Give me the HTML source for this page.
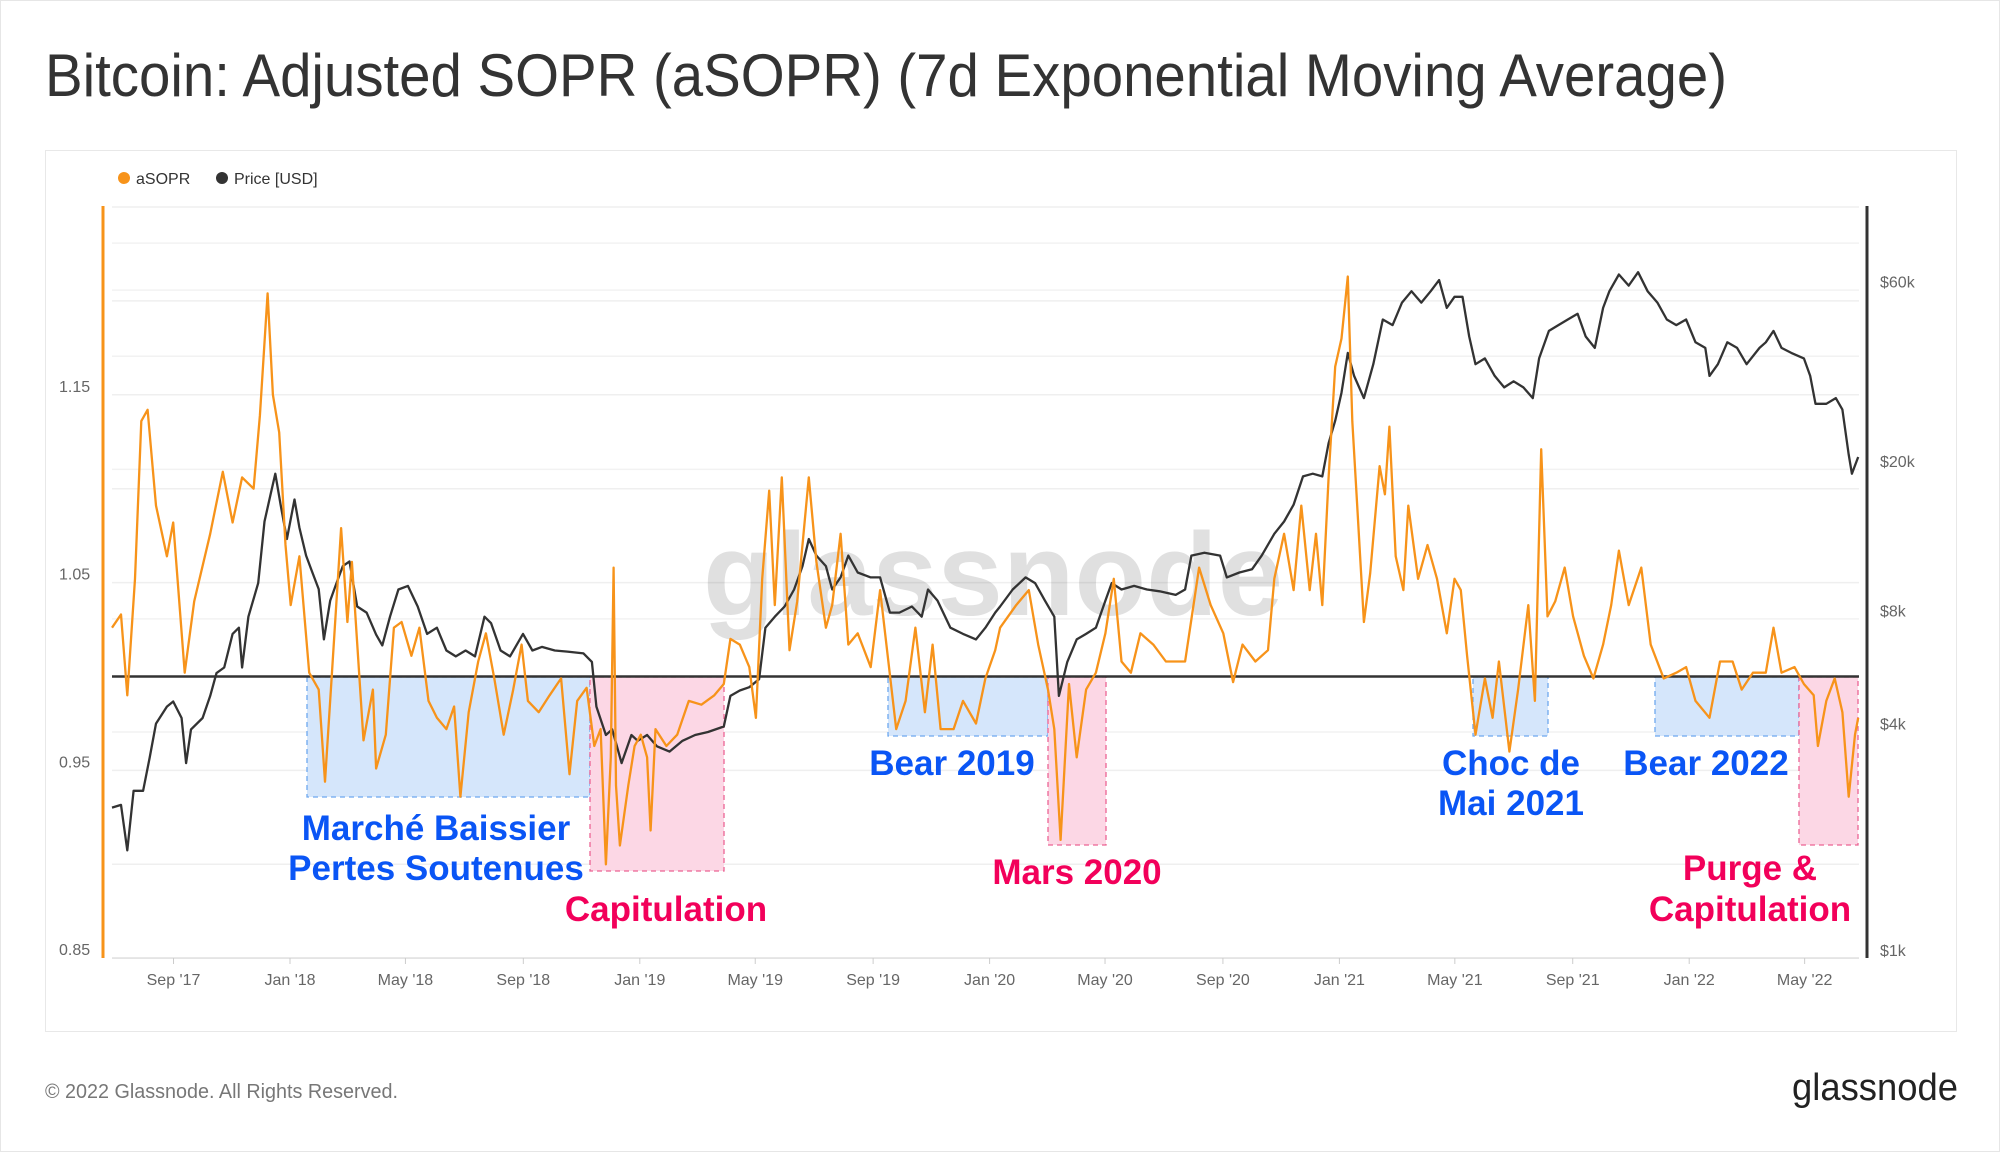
<!DOCTYPE html>
<html><head><meta charset="utf-8">
<style>
html,body{margin:0;padding:0;background:#fff;}
svg{display:block;font-family:"Liberation Sans",sans-serif;}
</style></head>
<body>
<svg id="chart" width="2000" height="1152" viewBox="0 0 2000 1152" xmlns="http://www.w3.org/2000/svg">
<rect x="0.5" y="0.5" width="1999" height="1151" fill="#fff" stroke="#e6e6e6"/>
<text x="45" y="96" font-size="60" fill="#333" textLength="1682" lengthAdjust="spacingAndGlyphs">Bitcoin: Adjusted SOPR (aSOPR) (7d Exponential Moving Average)</text>
<rect x="45.5" y="150.5" width="1911" height="881" fill="#fff" stroke="#e8e8e8"/>
<g>
<g><circle cx="124" cy="178" r="6" fill="#f7931a"/><text x="136" y="184" font-size="16" fill="#333">aSOPR</text></g>
<g><circle cx="222" cy="178" r="6" fill="#333"/><text x="234" y="184" font-size="16" fill="#333">Price [USD]</text></g>
</g>
<g id="grid"></g>
<text x="993" y="615" font-size="118" fill="#000" fill-opacity="0.12" text-anchor="middle" font-weight="bold" textLength="580" lengthAdjust="spacingAndGlyphs">glassnode</text>
<g id="boxes"></g>
<g id="series"></g>
<g id="axes"></g>
<g id="labels" font-weight="bold" font-size="35" text-anchor="middle"></g>
<text x="45" y="1098" font-size="20" fill="#777" textLength="353" lengthAdjust="spacingAndGlyphs">© 2022 Glassnode. All Rights Reserved.</text>
<text x="1792" y="1100" font-size="38" fill="#222" textLength="166" lengthAdjust="spacingAndGlyphs">glassnode</text>
</svg>
<script>
const asoprDates=[2017.491,2017.517,2017.535,2017.557,2017.575,2017.593,2017.617,2017.648,2017.666,2017.699,2017.726,2017.772,2017.808,2017.836,2017.863,2017.896,2017.914,2017.936,2017.951,2017.969,2017.987,2018.002,2018.027,2018.055,2018.082,2018.100,2018.119,2018.146,2018.164,2018.177,2018.210,2018.237,2018.246,2018.274,2018.297,2018.319,2018.347,2018.370,2018.396,2018.420,2018.447,2018.469,2018.487,2018.511,2018.538,2018.560,2018.584,2018.611,2018.638,2018.662,2018.680,2018.711,2018.742,2018.775,2018.799,2018.821,2018.848,2018.870,2018.888,2018.903,2018.917,2018.925,2018.932,2018.943,2018.967,2018.985,2019.003,2019.021,2019.031,2019.045,2019.076,2019.107,2019.140,2019.176,2019.213,2019.240,2019.259,2019.286,2019.313,2019.332,2019.350,2019.370,2019.386,2019.406,2019.428,2019.450,2019.483,2019.505,2019.532,2019.550,2019.574,2019.596,2019.623,2019.660,2019.687,2019.733,2019.760,2019.788,2019.815,2019.837,2019.860,2019.897,2019.924,2019.961,2019.988,2020.016,2020.030,2020.076,2020.112,2020.139,2020.167,2020.185,2020.203,2020.227,2020.249,2020.276,2020.304,2020.331,2020.355,2020.377,2020.404,2020.431,2020.468,2020.504,2020.559,2020.599,2020.632,2020.668,2020.696,2020.723,2020.760,2020.796,2020.814,2020.842,2020.869,2020.891,2020.915,2020.933,2020.951,2020.969,2020.988,2021.006,2021.024,2021.037,2021.051,2021.070,2021.088,2021.115,2021.130,2021.143,2021.161,2021.183,2021.197,2021.225,2021.252,2021.279,2021.307,2021.329,2021.347,2021.365,2021.389,2021.416,2021.438,2021.456,2021.486,2021.511,2021.540,2021.559,2021.577,2021.595,2021.617,2021.644,2021.668,2021.699,2021.726,2021.754,2021.777,2021.799,2021.827,2021.863,2021.890,2021.927,2021.963,2021.991,2022.018,2022.058,2022.088,2022.124,2022.150,2022.182,2022.219,2022.241,2022.264,2022.301,2022.328,2022.356,2022.368,2022.392,2022.416,2022.438,2022.456,2022.474,2022.483];
const asoprValues=[1.026,1.033,0.990,1.052,1.136,1.142,1.091,1.064,1.082,1.002,1.040,1.076,1.109,1.082,1.106,1.100,1.139,1.204,1.150,1.130,1.070,1.038,1.064,1.002,0.993,0.944,0.999,1.079,1.029,1.061,0.966,0.993,0.951,0.969,1.026,1.029,1.011,1.026,0.987,0.978,0.972,0.984,0.936,0.981,1.008,1.023,0.999,0.969,0.993,1.017,0.987,0.981,0.990,0.999,0.948,0.987,0.994,0.963,0.972,0.900,0.957,1.058,0.942,0.910,0.942,0.963,0.969,0.957,0.918,0.972,0.963,0.969,0.987,0.985,0.990,0.996,1.020,1.017,1.005,0.978,1.052,1.099,1.038,1.106,1.014,1.040,1.106,1.061,1.026,1.038,1.076,1.017,1.023,1.005,1.046,0.972,0.987,1.026,0.981,1.017,0.972,0.972,0.987,0.975,0.999,1.014,1.026,1.038,1.046,1.017,0.993,0.972,0.913,0.996,0.957,0.993,1.002,1.023,1.052,1.008,1.002,1.023,1.017,1.008,1.008,1.058,1.038,1.023,0.997,1.017,1.008,1.014,1.052,1.076,1.046,1.091,1.046,1.076,1.038,1.106,1.165,1.180,1.213,1.136,1.091,1.029,1.055,1.112,1.097,1.133,1.064,1.046,1.091,1.052,1.070,1.052,1.023,1.052,1.046,1.011,0.969,0.999,0.978,1.008,0.960,0.993,1.038,0.987,1.121,1.032,1.040,1.058,1.032,1.011,0.999,1.017,1.038,1.067,1.038,1.058,1.017,0.999,1.002,1.005,0.987,0.978,1.008,1.008,0.993,1.002,1.002,1.026,1.002,1.005,0.996,0.990,0.963,0.987,0.999,0.981,0.936,0.969,0.978];
const priceDates=[2017.491,2017.517,2017.535,2017.553,2017.580,2017.599,2017.617,2017.648,2017.666,2017.690,2017.703,2017.717,2017.750,2017.772,2017.790,2017.812,2017.836,2017.854,2017.863,2017.881,2017.909,2017.927,2017.945,2017.958,2017.973,2017.991,2018.013,2018.027,2018.046,2018.064,2018.082,2018.097,2018.115,2018.133,2018.151,2018.170,2018.192,2018.219,2018.246,2018.264,2018.286,2018.310,2018.337,2018.365,2018.392,2018.420,2018.447,2018.474,2018.502,2018.529,2018.556,2018.575,2018.602,2018.629,2018.666,2018.693,2018.720,2018.757,2018.793,2018.839,2018.863,2018.876,2018.903,2018.921,2018.948,2018.976,2018.994,2019.021,2019.049,2019.085,2019.122,2019.158,2019.195,2019.240,2019.259,2019.286,2019.313,2019.341,2019.359,2019.386,2019.414,2019.441,2019.465,2019.483,2019.505,2019.532,2019.550,2019.574,2019.596,2019.623,2019.660,2019.687,2019.715,2019.742,2019.778,2019.806,2019.824,2019.851,2019.888,2019.924,2019.961,2019.988,2020.016,2020.030,2020.066,2020.103,2020.130,2020.158,2020.185,2020.198,2020.222,2020.249,2020.276,2020.304,2020.331,2020.349,2020.377,2020.413,2020.450,2020.486,2020.532,2020.559,2020.577,2020.614,2020.659,2020.678,2020.714,2020.750,2020.778,2020.814,2020.842,2020.869,2020.896,2020.924,2020.951,2020.969,2020.988,2021.006,2021.024,2021.042,2021.070,2021.097,2021.124,2021.152,2021.179,2021.206,2021.234,2021.261,2021.285,2021.307,2021.329,2021.352,2021.371,2021.389,2021.416,2021.444,2021.471,2021.498,2021.526,2021.553,2021.571,2021.599,2021.626,2021.653,2021.681,2021.704,2021.730,2021.754,2021.772,2021.799,2021.827,2021.854,2021.881,2021.909,2021.936,2021.963,2021.991,2022.018,2022.046,2022.058,2022.082,2022.109,2022.137,2022.164,2022.201,2022.219,2022.241,2022.264,2022.292,2022.328,2022.346,2022.361,2022.392,2022.419,2022.438,2022.456,2022.465,2022.483];
const priceValues=[2390,2430,1840,2650,2650,3250,4000,4440,4580,4140,3140,3860,4140,4740,5450,5640,6930,7200,5640,7700,9460,13800,16400,18500,15300,12400,15800,13300,11200,10100,9120,6700,8500,9460,10500,10800,8200,7900,6900,6460,7700,9100,9300,8200,6930,7200,6260,6040,6260,6040,7700,7400,6260,6040,6930,6260,6400,6260,6220,6150,5840,4440,3730,3860,3140,3730,3600,3730,3480,3370,3600,3730,3800,3930,4740,4900,5000,5250,7200,7700,8200,9100,10500,12400,11200,10500,9100,9800,11200,10100,9800,9800,7900,7900,8200,7700,9100,8500,7200,6930,6700,7200,7900,8200,9100,9800,9460,8500,7700,4740,5840,6700,6930,7200,8500,9460,9100,9300,9100,9000,8800,9100,11200,11400,11200,9800,10100,10300,11200,12800,13800,15300,18200,18500,18200,22300,25600,30400,38800,33700,29400,36200,47600,46000,52800,56600,52800,56600,60600,51100,54700,54700,42900,36200,37500,33700,31400,32600,31400,29400,37500,44400,46000,47600,49300,42900,40000,51100,56600,62700,58600,63600,56600,52800,47600,46000,47600,41400,40000,33700,36200,41400,40000,36200,40000,41400,44400,40000,38800,37500,33700,28400,28400,29400,27400,20800,18500,20500];
const xTickLabels=["Sep '17","Jan '18","May '18","Sep '18","Jan '19","May '19","Sep '19","Jan '20","May '20","Sep '20","Jan '21","May '21","Sep '21","Jan '22","May '22"];
const xTickDates=[2017.667,2018.0,2018.33,2018.667,2019.0,2019.33,2019.667,2020.0,2020.33,2020.667,2021.0,2021.33,2021.667,2022.0,2022.33];
const leftTicks=[0.85,0.95,1.05,1.15];
const leftTickLabels=["0.85","0.95","1.05","1.15"];
const leftGrid=[0.85,0.90,0.95,1.05,1.10,1.15,1.20,1.25];
const rightTicks=[1000,4000,8000,20000,60000];
const rightTickLabels=["$1k","$4k","$8k","$20k","$60k"];
const rightGrid=[3800,7600,19000,38000,57000,76000];

const NS="http://www.w3.org/2000/svg";
const PL=112,PR=1859,PT=206,PB=958;
function xScale(t){return 290+(t-2018)*349.8;}
function yLeft(v){return 958.2-(v-0.85)*1878;}
function yRight(p){return 949.8-Math.log2(p/1000)*113.1;}
function mk(tag,attrs,parent){const e=document.createElementNS(NS,tag);for(const k in attrs)e.setAttribute(k,attrs[k]);parent.appendChild(e);return e;}

const grid=document.getElementById('grid');
leftGrid.forEach(v=>{const l=mk('line',{x1:PL,x2:PR,y1:yLeft(v),y2:yLeft(v),stroke:'#efefef','stroke-width':1.5},grid);

});
rightGrid.forEach(p=>{const l=mk('line',{x1:PL,x2:PR,y1:yRight(p),y2:yRight(p),stroke:'#f2f2f2','stroke-width':1.5},grid);

});

const boxes=document.getElementById('boxes');
const boxDefs=[[307,677,283,120,'b','bear-market-box'],[590,677,134,194,'p','capitulation-box'],[888,677,160,59,'b','bear-2019-box'],[1048,677,58,168,'p','march-2020-box'],[1473,677,75,59,'b','may-2021-box'],[1655,677,144,59,'b','bear-2022-box'],[1799,677,59,168,'p','purge-box']];
boxDefs.forEach(b=>{const r=mk('rect',{x:b[0],y:b[1],width:b[2],height:b[3],fill:b[4]=='b'?'#d5e6fb':'#fcd7e5',stroke:b[4]=='b'?'#6ea8ef':'#ec6394','stroke-width':1.3,'stroke-dasharray':'5,4'},boxes);

});

const series=document.getElementById('series');
const bl=mk('line',{x1:PL,x2:PR,y1:yLeft(1),y2:yLeft(1),stroke:'#333','stroke-width':2.5},series);


let pd=priceDates.map((t,i)=>(i?'L':'M')+xScale(t).toFixed(1)+','+yRight(priceValues[i]).toFixed(1)).join('');
const pl=mk('path',{d:pd,fill:'none',stroke:'#333','stroke-width':2.3,'stroke-linejoin':'round'},series);


let ad=asoprDates.map((t,i)=>(i?'L':'M')+xScale(t).toFixed(1)+','+yLeft(asoprValues[i]).toFixed(1)).join('');
const al=mk('path',{d:ad,fill:'none',stroke:'#f7931a','stroke-width':2.3,'stroke-linejoin':'round'},series);



const axes=document.getElementById('axes');
const la=mk('line',{x1:103,x2:103,y1:PT,y2:PB,stroke:'#f7931a','stroke-width':3},axes);


const ra=mk('line',{x1:1867,x2:1867,y1:PT,y2:PB,stroke:'#333','stroke-width':3},axes);


const xa=mk('line',{x1:PL,x2:PR,y1:PB,y2:PB,stroke:'#e0e0e0','stroke-width':1.5},axes);


leftTicks.forEach((v,i)=>{const t=mk('text',{x:59,y:yLeft(v)-3,'font-size':16,fill:'#666'},axes);t.textContent=leftTickLabels[i];

});
rightTicks.forEach((p,i)=>{const t=mk('text',{x:1880,y:yRight(p)+6,'font-size':16,fill:'#666'},axes);t.textContent=rightTickLabels[i];

});
xTickDates.forEach((d,i)=>{const x=xScale(d);
const tk=mk('line',{x1:x,x2:x,y1:PB,y2:PB+6,stroke:'#ccc','stroke-width':1},axes);


const t=mk('text',{x:x,y:985,'font-size':16,fill:'#666','text-anchor':'middle'},axes);t.textContent=xTickLabels[i];

});

const labels=document.getElementById('labels');
const BLUE='#0a55f5',PINK='#f2005a';
const lab=[["Marché Baissier",436,840,BLUE,'bear-market-label'],["Pertes Soutenues",436,880,BLUE,'losses-label'],["Capitulation",666,921,PINK,'capitulation-label'],["Bear 2019",952,775,BLUE,'bear-2019-label'],["Mars 2020",1077,884,PINK,'march-2020-label'],["Choc de",1511,775,BLUE,'may-shock-label'],["Mai 2021",1511,815,BLUE,'may-2021-label'],["Bear 2022",1706,775,BLUE,'bear-2022-label'],["Purge &",1750,880,PINK,'purge-label'],["Capitulation",1750,921,PINK,'purge-capitulation-label']];
lab.forEach(l=>{const t=mk('text',{x:l[1],y:l[2],fill:l[3]},labels);t.textContent=l[0];

});
</script>
</body></html>
